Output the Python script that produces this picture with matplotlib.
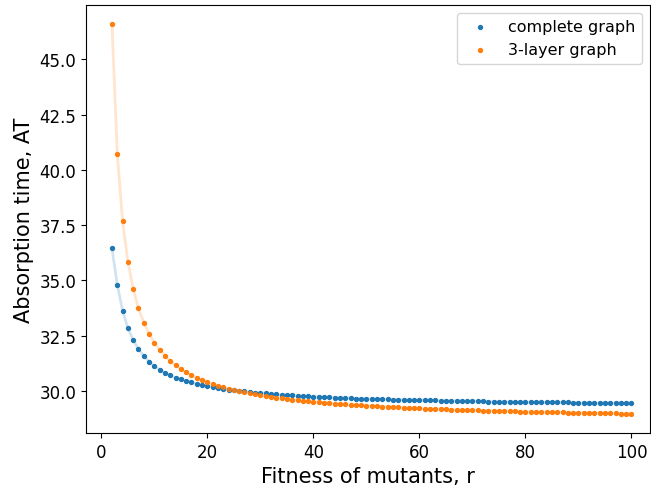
import numpy as np
import matplotlib
matplotlib.use("Agg")
import matplotlib.pyplot as plt

# fitness values r = 2..100
r = np.arange(2, 101)

# absorption time, complete graph
at_complete = [
    36.45, 34.80, 33.64, 32.83, 32.30, 31.90, 31.58, 31.33, 31.12, 30.97,
    30.82, 30.71, 30.61, 30.53, 30.45, 30.39, 30.32, 30.27, 30.22, 30.18,
    30.14, 30.10, 30.06, 30.03, 30.00, 29.98, 29.95, 29.93, 29.91, 29.89,
    29.87, 29.85, 29.83, 29.81, 29.80, 29.78, 29.77, 29.76, 29.75, 29.73,
    29.72, 29.71, 29.70, 29.69, 29.68, 29.67, 29.66, 29.66, 29.65, 29.64,
    29.63, 29.63, 29.62, 29.61, 29.61, 29.60, 29.59, 29.59, 29.58, 29.58,
    29.57, 29.57, 29.56, 29.56, 29.55, 29.55, 29.54, 29.54, 29.54, 29.53,
    29.53, 29.52, 29.52, 29.52, 29.51, 29.51, 29.51, 29.50, 29.50, 29.50,
    29.49, 29.49, 29.49, 29.49, 29.48, 29.48, 29.48, 29.47, 29.47, 29.47,
    29.47, 29.47, 29.46, 29.46, 29.46, 29.46, 29.45, 29.45, 29.45,
]

# absorption time, 3-layer graph
at_layer = [
    46.58, 40.74, 37.68, 35.84, 34.62, 33.74, 33.09, 32.59, 32.18, 31.86,
    31.59, 31.36, 31.16, 30.99, 30.85, 30.71, 30.60, 30.49, 30.39, 30.32,
    30.24, 30.17, 30.10, 30.04, 29.99, 29.94, 29.89, 29.85, 29.81, 29.77,
    29.73, 29.70, 29.67, 29.64, 29.61, 29.58, 29.56, 29.53, 29.51, 29.49,
    29.47, 29.45, 29.43, 29.41, 29.39, 29.38, 29.36, 29.35, 29.33, 29.32,
    29.30, 29.29, 29.28, 29.27, 29.26, 29.24, 29.23, 29.22, 29.21, 29.20,
    29.19, 29.18, 29.18, 29.17, 29.16, 29.15, 29.14, 29.14, 29.13, 29.12,
    29.11, 29.11, 29.10, 29.09, 29.09, 29.08, 29.08, 29.07, 29.06, 29.06,
    29.05, 29.05, 29.04, 29.04, 29.03, 29.03, 29.02, 29.02, 29.02, 29.01,
    29.01, 29.00, 29.00, 28.99, 28.99, 28.99, 28.98, 28.98, 28.98,
]

fig = plt.figure(figsize=(6.51, 4.89), dpi=100)
ax = fig.add_axes([0.1321, 0.1125, 0.8664, 0.8752])

ax.plot(r, at_complete, color='tab:blue', alpha=0.2, lw=2)
ax.plot(r, at_layer, color='tab:orange', alpha=0.2, lw=2)
ax.scatter(r, at_complete, s=8, color='tab:blue', label='complete graph')
ax.scatter(r, at_layer, s=8, color='tab:orange', label='3-layer graph')

ax.set_xlim(-2.9, 103.5)
ax.set_xlabel('Fitness of mutants, r', fontsize=15)
ax.set_ylabel('Absorption time, AT', fontsize=15)
ax.tick_params(labelsize=12)
ax.legend(loc='upper right', fontsize=11.5)

fig.savefig('out.png', dpi=100)
